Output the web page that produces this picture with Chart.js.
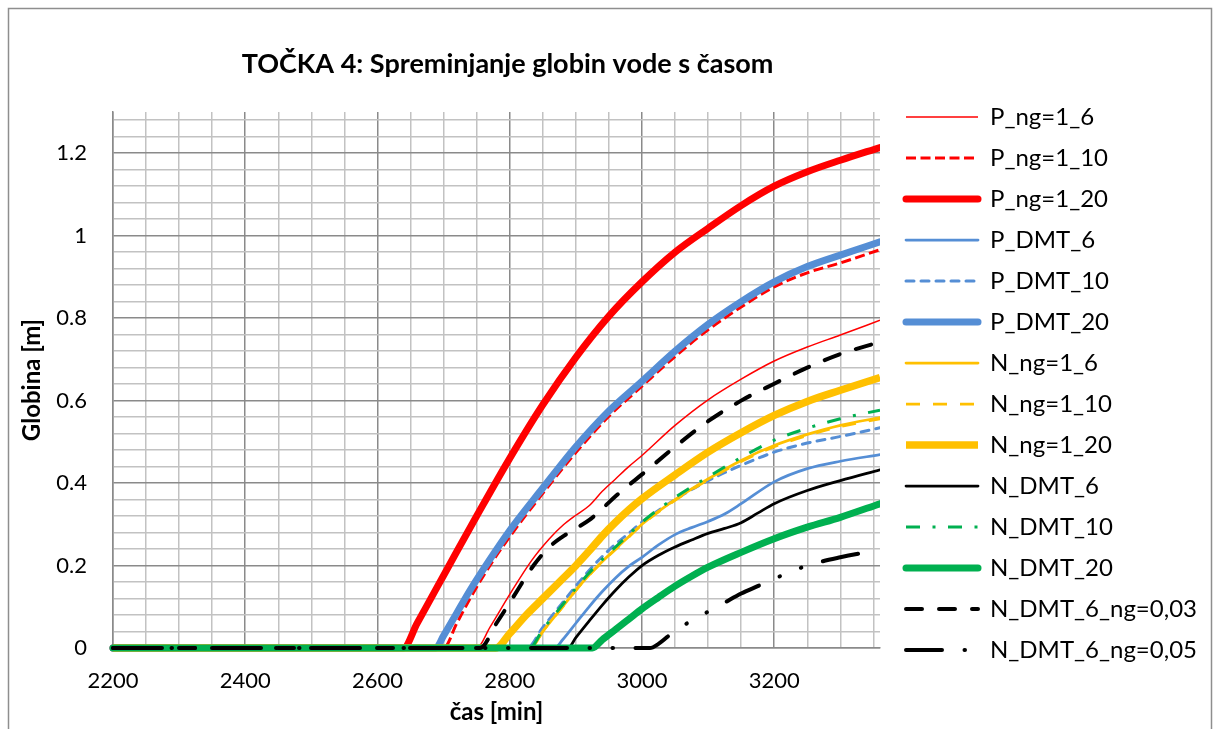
<!DOCTYPE html>
<html lang="sl">
<head>
<meta charset="utf-8">
<title>TOČKA 4: Spreminjanje globin vode s časom</title>
<script src="https://cdn.jsdelivr.net/npm/chart.js@4.4.1/dist/chart.umd.min.js"></script>
<style>
    html, body { margin: 0; padding: 0; background: #fff; }
    #wrap { width: 1219px; height: 729px; }
</style>
</head>
<body>
<div id="wrap"><canvas id="globine" width="1219" height="729"></canvas></div>
<script>
const xMajorTicks = [2200, 2400, 2600, 2800, 3000, 3200];
const yMajorTicks = [0, 0.2, 0.4, 0.6, 0.8, 1, 1.2];

// čas [min] / globina [m] for each series
const tPng6 = [2200, 2750, 2770, 2800, 2833, 2860, 2880, 2900, 2920, 2940, 2960, 2980, 3000, 3050, 3100, 3150, 3200, 3250, 3300, 3360];
const hPng6 = [0, 0, 0.05, 0.13, 0.212, 0.265, 0.297, 0.322, 0.345, 0.38, 0.41, 0.44, 0.467, 0.54, 0.602, 0.652, 0.696, 0.73, 0.759, 0.795];

const tPng10 = [2200, 2700, 2720, 2740, 2768, 2800, 2850, 2900, 2950, 3000, 3050, 3100, 3150, 3200, 3250, 3300, 3360];
const hPng10 = [0, 0, 0.06, 0.12, 0.195, 0.27, 0.375, 0.474, 0.562, 0.635, 0.707, 0.772, 0.827, 0.876, 0.91, 0.934, 0.966];

const tPng20 = [2200, 2639, 2660, 2680, 2700, 2720, 2750, 2800, 2850, 2900, 2950, 3000, 3050, 3100, 3150, 3200, 3250, 3300, 3360];
const hPng20 = [0, 0, 0.06, 0.118, 0.176, 0.234, 0.32, 0.46, 0.59, 0.705, 0.805, 0.888, 0.96, 1.018, 1.073, 1.12, 1.155, 1.183, 1.214];

const tPdmt6 = [2200, 2868, 2880, 2900, 2920, 2940, 2960, 2980, 3000, 3025, 3050, 3075, 3100, 3125, 3150, 3200, 3250, 3300, 3360];
const hPdmt6 = [0, 0, 0.02, 0.06, 0.1, 0.137, 0.17, 0.198, 0.22, 0.25, 0.275, 0.292, 0.307, 0.325, 0.35, 0.403, 0.435, 0.453, 0.469];

const tPdmt10 = [2200, 2826, 2850, 2880, 2900, 2920, 2940, 2960, 2980, 3000, 3050, 3100, 3150, 3200, 3250, 3300, 3360];
const hPdmt10 = [0, 0, 0.05, 0.11, 0.15, 0.188, 0.222, 0.252, 0.278, 0.305, 0.36, 0.406, 0.443, 0.475, 0.497, 0.513, 0.534];

const tPdmt20 = [2200, 2688, 2700, 2720, 2740, 2768, 2800, 2850, 2900, 2950, 3000, 3050, 3100, 3150, 3200, 3250, 3300, 3360];
const hPdmt20 = [0, 0, 0.03, 0.085, 0.14, 0.21, 0.285, 0.388, 0.488, 0.575, 0.647, 0.72, 0.785, 0.84, 0.888, 0.925, 0.953, 0.985];

const tNng6 = [2200, 2832, 2850, 2880, 2900, 2920, 2940, 2960, 2980, 3000, 3050, 3100, 3150, 3200, 3250, 3300, 3360];
const hNng6 = [0, 0, 0.04, 0.1, 0.14, 0.177, 0.21, 0.24, 0.27, 0.3, 0.36, 0.41, 0.455, 0.491, 0.518, 0.54, 0.559];

const tNng10 = [2200, 2833, 2850, 2880, 2900, 2920, 2940, 2960, 2980, 3000, 3050, 3100, 3150, 3200, 3250, 3300, 3360];
const hNng10 = [0, 0, 0.04, 0.1, 0.14, 0.176, 0.209, 0.239, 0.269, 0.299, 0.358, 0.408, 0.452, 0.488, 0.515, 0.537, 0.556];

const tNng20 = [2200, 2779, 2800, 2825, 2850, 2875, 2900, 2920, 2940, 2960, 2980, 3000, 3050, 3100, 3150, 3200, 3250, 3300, 3360];
const hNng20 = [0, 0, 0.035, 0.08, 0.12, 0.16, 0.2, 0.235, 0.272, 0.305, 0.335, 0.362, 0.42, 0.475, 0.522, 0.564, 0.598, 0.625, 0.656];

const tNdmt6 = [2200, 2888, 2900, 2920, 2940, 2960, 2980, 3000, 3025, 3050, 3075, 3100, 3125, 3150, 3175, 3200, 3250, 3300, 3360];
const hNdmt6 = [0, 0, 0.025, 0.065, 0.104, 0.14, 0.172, 0.2, 0.225, 0.245, 0.262, 0.278, 0.29, 0.304, 0.327, 0.35, 0.382, 0.406, 0.432];

const tNdmt10 = [2200, 2830, 2850, 2880, 2900, 2920, 2940, 2960, 2980, 3000, 3050, 3100, 3150, 3200, 3250, 3300, 3360];
const hNdmt10 = [0, 0, 0.045, 0.105, 0.145, 0.182, 0.215, 0.245, 0.275, 0.305, 0.365, 0.415, 0.462, 0.504, 0.533, 0.556, 0.577];

const tNdmt20 = [2200, 2925, 2940, 2960, 2980, 3000, 3025, 3050, 3075, 3100, 3150, 3200, 3250, 3300, 3360];
const hNdmt20 = [0, 0, 0.02, 0.045, 0.07, 0.095, 0.123, 0.15, 0.174, 0.196, 0.232, 0.265, 0.293, 0.317, 0.35];

const tNdmt6ng003 = [2200, 2755, 2780, 2800, 2836, 2860, 2880, 2900, 2920, 2940, 2960, 2980, 3000, 3050, 3100, 3150, 3200, 3250, 3300, 3360];
const hNdmt6ng003 = [0, 0, 0.06, 0.11, 0.2, 0.245, 0.27, 0.29, 0.31, 0.338, 0.368, 0.395, 0.421, 0.488, 0.55, 0.6, 0.641, 0.68, 0.713, 0.742];

const tNdmt6ng005 = [2200, 3012, 3025, 3050, 3075, 3100, 3125, 3150, 3175, 3200, 3250, 3300, 3360];
const hNdmt6ng005 = [0, 0, 0.01, 0.042, 0.066, 0.088, 0.11, 0.132, 0.15, 0.168, 0.2, 0.22, 0.238];

const RED = "#ff0000";
const BLUE = "#558ed5";
const YELLOW = "#ffc000";
const GREEN = "#00b050";
const BLACK = "#000000";
const GRID_MAJOR = "#8a8a8a";
const GRID_MINOR = "#c2c2c2";

function toPoints(t, h) {
    return t.map((x, i) => ({ x: x, y: h[i] }));
}

function series(label, t, h, color, width, dash, cap) {
    return {
        label: label,
        data: toPoints(t, h),
        borderColor: color,
        backgroundColor: color,
        borderWidth: width,
        borderDash: dash || [],
        borderCapStyle: cap || "butt",
        borderJoinStyle: "round",
        pointRadius: 0,
        pointHoverRadius: 0,
        fill: false,
        clip: { left: 8, top: 8, right: 0, bottom: 8 },
        cubicInterpolationMode: "monotone"
    };
}

const datasets = [
    series("P_ng=1_6", tPng6, hPng6, RED, 1.5),
    series("P_ng=1_10", tPng10, hPng10, RED, 3, [10, 4.5]),
    series("P_ng=1_20", tPng20, hPng20, RED, 7, [], "round"),
    series("P_DMT_6", tPdmt6, hPdmt6, BLUE, 2.75, [], "round"),
    series("P_DMT_10", tPdmt10, hPdmt10, BLUE, 3, [8, 7], "round"),
    series("P_DMT_20", tPdmt20, hPdmt20, BLUE, 7, [], "round"),
    series("N_ng=1_6", tNng6, hNng6, YELLOW, 2.75, [], "round"),
    series("N_ng=1_10", tNng10, hNng10, YELLOW, 2.75, [14, 13]),
    series("N_ng=1_20", tNng20, hNng20, YELLOW, 7.5),
    series("N_DMT_6", tNdmt6, hNdmt6, BLACK, 2.75, [], "round"),
    series("N_DMT_10", tNdmt10, hNdmt10, GREEN, 3, [14, 12.5, 3, 12.5]),
    series("N_DMT_20", tNdmt20, hNdmt20, GREEN, 7, [], "round"),
    series("N_DMT_6_ng=0,03", tNdmt6ng003, hNdmt6ng003, BLACK, 4, [16, 17], "round"),
    series("N_DMT_6_ng=0,05", tNdmt6ng005, hNdmt6ng005, BLACK, 4, [36, 22.5, 0.5, 22.5, 0.5, 22.5], "round")
];

// Excel draws later series on top
datasets.forEach((ds, i) => ds.order = datasets.length - i);

const isMajorY = v => Math.abs(v * 5 - Math.round(v * 5)) < 1e-6;

const sheetPlugin = {
    id: "sheet",
    beforeDraw(chart) {
        const ctx = chart.ctx;
        ctx.save();
        ctx.fillStyle = "#ffffff";
        ctx.fillRect(0, 0, chart.width, chart.height);
        ctx.strokeStyle = "#8e8e8e";
        ctx.lineWidth = 1.5;
        ctx.strokeRect(8.5, 8.5, 1203, 760);
        ctx.restore();
    },
    afterLayout(chart) {
        const tb = chart.titleBlock;
        if (tb) {
            tb.left = 0;
            tb.right = 1015;
            tb.width = 1015;
        }
        // the legend box is narrower than its labels; widen it so they are not clipped
        const lg = chart.legend;
        if (lg) {
            lg.left = 889;
            lg.width = 325;
            lg.right = lg.left + lg.width;
        }
    }
};

Chart.defaults.font.family = "Lato, 'Open Sans', sans-serif";
Chart.defaults.color = "#000";

function drawChart() {
    new Chart(document.getElementById("globine"), {
        type: "line",
        data: { datasets: datasets },
        plugins: [sheetPlugin],
        options: {
            responsive: false,
            animation: false,
            events: [],
            layout: { padding: { top: 38, right: 39, bottom: 0, left: 0 } },
            plugins: {
                tooltip: { enabled: false },
                title: {
                    display: true,
                    text: "TOČKA 4: Spreminjanje globin vode s časom",
                    color: "#000",
                    font: { size: 27, weight: "bold" },
                    padding: { top: 10, bottom: 31.6 }
                },
                legend: {
                    position: "right",
                    align: "center",
                    maxWidth: 300,
                    labels: {
                        usePointStyle: true,
                        pointStyle: "line",
                        pointStyleWidth: 72,
                        padding: 17,
                        color: "#000",
                        font: { size: 24 },
                        generateLabels(chart) {
                            return chart.data.datasets.map((ds, i) => ({
                                text: ds.label,
                                fillStyle: ds.borderColor,
                                strokeStyle: ds.borderColor,
                                lineWidth: ds.borderWidth,
                                lineDash: ds.borderDash,
                                lineCap: ds.borderCapStyle,
                                pointStyle: "line",
                                hidden: false,
                                fontColor: "#000",
                                datasetIndex: i
                            }));
                        }
                    }
                }
            },
            scales: {
                x: {
                    type: "linear",
                    min: 2200,
                    max: 3360,
                    afterBuildTicks(scale) {
                        const ticks = [];
                        for (let v = 2200; v <= 3350; v += 50) ticks.push({ value: v });
                        scale.ticks = ticks;
                    },
                    afterFit(scale) { scale.height = 81; },
                    grid: {
                        color: ctx => (ctx.tick && ctx.tick.value % 200 === 0) ? GRID_MAJOR : GRID_MINOR,
                        lineWidth: 1.5,
                        drawTicks: false
                    },
                    border: { color: GRID_MAJOR, width: 1.5 },
                    ticks: {
                        autoSkip: false,
                        maxRotation: 0,
                        padding: 20,
                        color: "#000",
                        font: { size: 22 },
                        callback: v => xMajorTicks.includes(v) ? String(v) : ""
                    },
                    title: {
                        display: true,
                        text: "čas [min]",
                        color: "#000",
                        font: { size: 24, weight: "bold" },
                        padding: { top: 0, bottom: 2 }
                    }
                },
                y: {
                    type: "linear",
                    min: 0,
                    max: 1.3,
                    afterBuildTicks(scale) {
                        const ticks = [];
                        for (let i = 0; i <= 32; i++) ticks.push({ value: Math.round(i * 4) / 100 });
                        scale.ticks = ticks;
                    },
                    afterFit(scale) { scale.width = 113; },
                    grid: {
                        color: ctx => (ctx.tick && isMajorY(ctx.tick.value)) ? GRID_MAJOR : GRID_MINOR,
                        lineWidth: 1.5,
                        drawTicks: false
                    },
                    border: { color: GRID_MAJOR, width: 1.5 },
                    ticks: {
                        autoSkip: false,
                        padding: 26,
                        color: "#000",
                        font: { size: 22 },
                        callback: v => {
                            const label = yMajorTicks.find(m => Math.abs(m - v) < 1e-6);
                            return label === undefined ? "" : String(label);
                        }
                    },
                    title: {
                        display: true,
                        text: "Globina [m]",
                        color: "#000",
                        font: { size: 24, weight: "bold" },
                        padding: { top: 17.6, bottom: 0 }
                    }
                }
            }
        }
    });
}

if (document.fonts && document.fonts.load) {
    Promise.all([
        document.fonts.load("22px Lato"),
        document.fonts.load("bold 24px Lato")
    ]).catch(() => {}).finally(drawChart);
} else {
    drawChart();
}
</script>
</body>
</html>
